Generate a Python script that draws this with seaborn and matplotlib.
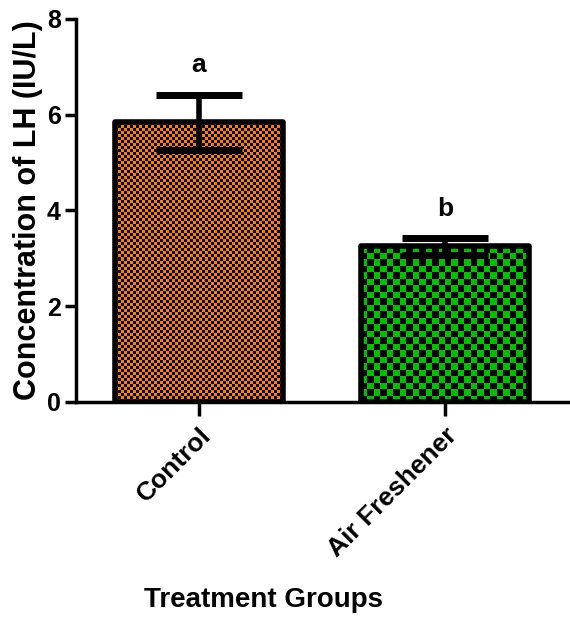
import numpy as np
import pandas as pd
import seaborn as sns
import matplotlib
matplotlib.use("Agg")
import matplotlib.pyplot as plt
from matplotlib.colors import ListedColormap
from matplotlib.patches import Rectangle

# ---- data ----
groups = ["Control", "Air Freshener"]
means = [5.84, 3.25]
sems = [0.58, 0.17]
letters = ["a", "b"]
colors = ["#FF8000", "#00C000"]
check_px = [3, 6.5]  # checker square size in pixels
y_ticks = [0, 2, 4, 6, 8]

sns.set_theme(style="white", rc={"text.color": "black", "axes.labelcolor": "black",
                                 "xtick.color": "black", "ytick.color": "black"})
plt.rcParams['font.family'] = ['Liberation Sans', 'DejaVu Sans']
plt.rcParams['font.weight'] = 'bold'

fig = plt.figure(figsize=(5.7, 6.22), dpi=100)
ax = fig.add_axes([0.1333, 0.3537, 0.8632, 0.6158])

df = pd.DataFrame({"group": groups, "mean": means})
sns.barplot(data=df, x="group", y="mean", hue="group", palette=colors,
            width=0.68, edgecolor="black", linewidth=0, legend=False, ax=ax,
            errorbar=None, zorder=1)

ax.set_xlim(-0.5, 1.5)
ax.set_ylim(0, 8)

fig.canvas.draw()
px_per_x = ax.transData.transform((1, 0))[0] - ax.transData.transform((0, 0))[0]
px_per_y = ax.transData.transform((0, 1))[1] - ax.transData.transform((0, 0))[1]

for patch, col, sq in zip(ax.patches, colors, check_px):
    x0, y0 = patch.get_xy()
    w, h = patch.get_width(), patch.get_height()
    nx = max(1, int(round(w * px_per_x / sq)))
    ny = max(1, int(round(h * px_per_y / sq)))
    board = (np.add.outer(np.arange(ny), np.arange(nx)) % 2).astype(float)
    im = ax.imshow(board, extent=(x0, x0 + w, y0, y0 + h), origin="lower",
                   cmap=ListedColormap(["black", col]), interpolation="nearest",
                   aspect="auto", zorder=1.5)
    im.set_clip_path(patch)
    ax.add_patch(Rectangle((x0, y0), w, h, fill=False, edgecolor="black",
                           linewidth=4, zorder=2, joinstyle="round"))

xpos = np.arange(len(groups))
ax.errorbar(xpos, means, yerr=sems, fmt="none", ecolor="black", elinewidth=4,
            capsize=31, capthick=5, zorder=3)
for i, (m, s, l) in enumerate(zip(means, sems, letters)):
    ax.text(i, m + s + 0.62, l, ha="center", va="center", fontsize=19,
            fontweight="bold")

ax.set_xlim(-0.5, 1.5)
ax.set_ylim(0, 8)
ax.set_yticks(y_ticks)
ax.set_yticklabels([str(t) for t in y_ticks], fontsize=18, fontweight="bold")
ax.set_xticks(xpos)
ax.set_xticklabels(groups, fontsize=19, fontweight="bold", rotation=45,
                   ha="right", rotation_mode="anchor")
ax.tick_params(axis="both", direction="out", length=8, width=2.5, color="black",
               bottom=True, left=True, pad=3)
ax.tick_params(axis="x", length=10, pad=5)
for side in ["top", "right"]:
    ax.spines[side].set_visible(False)
for side in ["left", "bottom"]:
    ax.spines[side].set_linewidth(2.5)
    ax.spines[side].set_color("black")

ax.set_ylabel("Concentration of LH (IU/L)", fontsize=22, fontweight="bold", labelpad=3)
ax.set_xlabel("")
fig.text(0.463, 0.035, "Treatment Groups", ha="center", va="center", fontsize=20,
         fontweight="bold")

fig.savefig("out.png", dpi=100, facecolor="white")
